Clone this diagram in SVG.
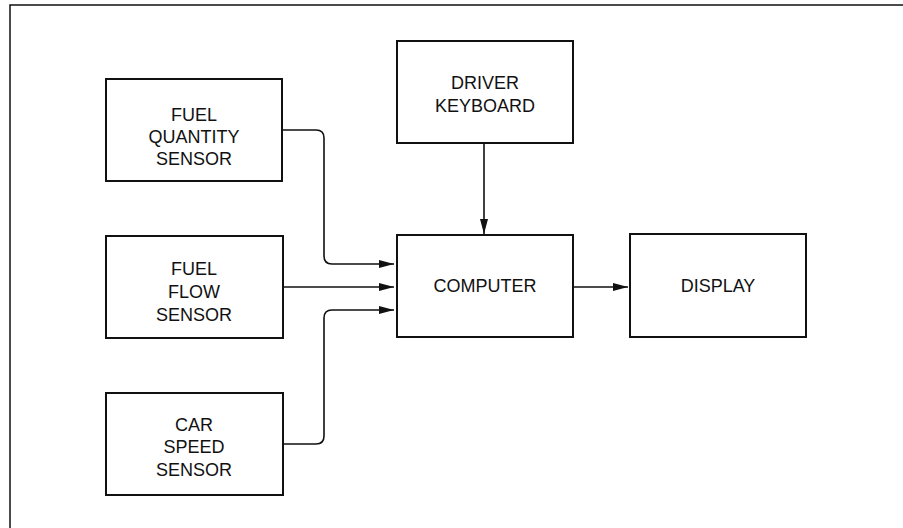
<svg xmlns="http://www.w3.org/2000/svg" width="903" height="528" viewBox="0 0 903 528">
<style>
.box{fill:#fff;stroke:#111;stroke-width:2}
.lbl{font-family:"Liberation Sans",Arial,sans-serif;font-size:18px;fill:#111;text-anchor:middle}
.con{fill:none;stroke:#111;stroke-width:1.6}
.frame{fill:none;stroke:#111;stroke-width:1.5}
</style>
<defs>
<marker id="ah" viewBox="0 0 15 8" refX="15" refY="4" markerWidth="15" markerHeight="8" markerUnits="userSpaceOnUse" orient="auto">
<path d="M0,0 L15,4 L0,8 Z" fill="#111"/>
</marker>
</defs>
<rect width="903" height="528" fill="#fff"/>
<path class="frame" d="M10,528 L10,5 L903,5"/>
<g id="fuel-quantity"><rect class="box" x="106" y="79" width="176" height="102"/>
<text class="lbl" x="194" y="120.5">FUEL</text><text class="lbl" x="194" y="142.5">QUANTITY</text><text class="lbl" x="194" y="165">SENSOR</text></g>
<g id="fuel-flow"><rect class="box" x="106" y="236" width="177" height="102"/>
<text class="lbl" x="194" y="275">FUEL</text><text class="lbl" x="194" y="298">FLOW</text><text class="lbl" x="194" y="321">SENSOR</text></g>
<g id="car-speed"><rect class="box" x="106" y="393" width="177" height="102"/>
<text class="lbl" x="194" y="431">CAR</text><text class="lbl" x="194" y="453">SPEED</text><text class="lbl" x="194" y="476">SENSOR</text></g>
<g id="driver-keyboard"><rect class="box" x="397" y="41" width="176" height="102"/>
<text class="lbl" x="485" y="89">DRIVER</text><text class="lbl" x="485" y="112">KEYBOARD</text></g>
<g id="computer"><rect class="box" x="397" y="235" width="176" height="102"/>
<text class="lbl" x="485" y="292">COMPUTER</text></g>
<g id="display"><rect class="box" x="630" y="234" width="176" height="103"/>
<text class="lbl" x="718" y="292">DISPLAY</text></g>
<g id="connectors">
<path class="con" marker-end="url(#ah)" d="M282,130 L316,130 Q324,130 324,138 L324,256 Q324,264 332,264 L394,264"/>
<path class="con" marker-end="url(#ah)" d="M283,287 L394,287"/>
<path class="con" marker-end="url(#ah)" d="M283,444 L316,444 Q324,444 324,436 L324,318 Q324,310 332,310 L394,310"/>
<path class="con" marker-end="url(#ah)" d="M484,143 L484,234"/>
<path class="con" marker-end="url(#ah)" d="M573,287 L628,287"/>
</g>
</svg>
